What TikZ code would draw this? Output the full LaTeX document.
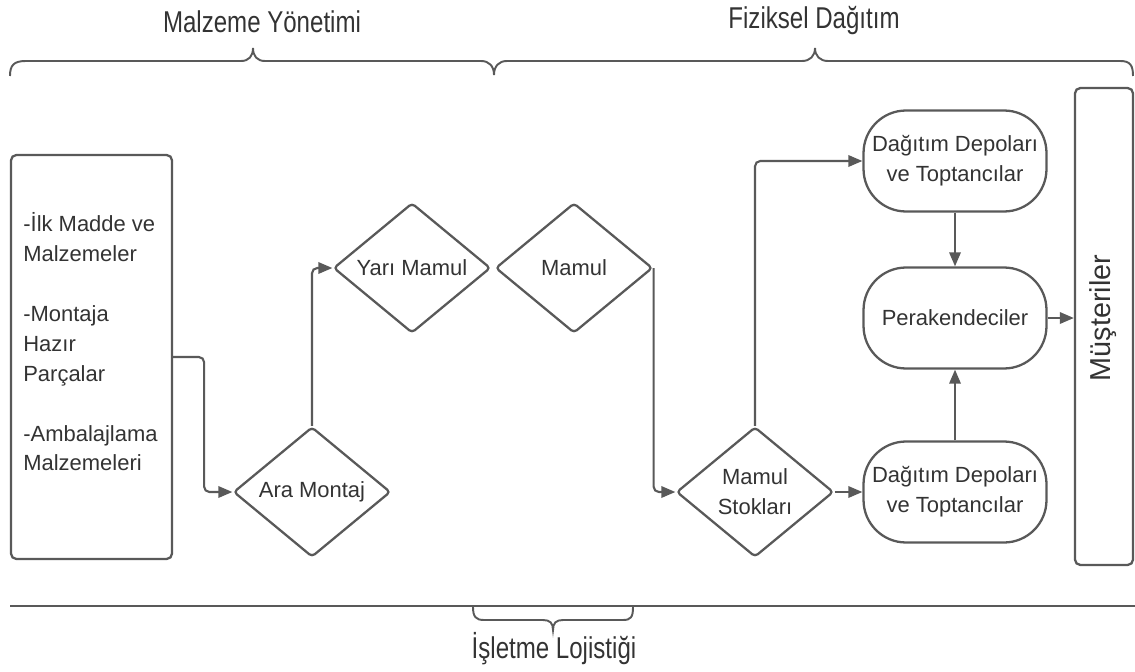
\documentclass[tikz,border=0pt]{standalone}
\usepackage{fontspec}
\setmainfont{Liberation Sans}
\usepackage{graphicx}
\usepackage{xcolor}
\usetikzlibrary{shapes.geometric}
\usetikzlibrary{arrows.meta}
\definecolor{cizgi}{HTML}{595959}
\definecolor{yazi}{HTML}{333333}

\begin{document}
\begin{tikzpicture}[x=0.02cm,y=-0.02cm,
  every node/.style={text=yazi,font=\fontsize{12.5}{17}\selectfont},
  karar/.style={draw=cizgi,line width=1.3pt,diamond,inner sep=0pt,rounded corners=2pt,
    minimum width=3.14cm,minimum height=2.6cm,align=center},
  depo/.style={draw=cizgi,line width=1.3pt,rectangle,rounded corners=0.85cm,inner sep=0pt,
    minimum width=3.66cm,minimum height=2.02cm,align=center},
  ok/.style={draw=cizgi,line width=1.2pt,rounded corners=3pt,-{Triangle[length=8pt,width=6.5pt]}},
  parantez/.style={draw=cizgi,line width=1.1pt},
  baslik/.style={font=\fontsize{13.7}{16}\selectfont}]
\useasboundingbox (0,0) rectangle (1135,672);

% ust basliklar
\node[baslik] (malzeme) at (262,22) {\scalebox{1}[1.25]{Malzeme Yönetimi}};
\node[baslik] (fiziksel) at (814,21) {\scalebox{1}[1.25]{Fiziksel Dağıtım}};
\draw[parantez] (10,76) .. controls (10,65) and (14,61) .. (26,61) -- (241,61)
  .. controls (249,61) and (253,56) .. (253,48) .. controls (253,56) and (257,61) .. (265,61)
  -- (481,61) .. controls (489,61) and (494,66) .. (494,75);
\draw[parantez] (494,75) .. controls (494,66) and (499,61) .. (507,61) -- (802,61)
  .. controls (810,61) and (815,56) .. (815,48) .. controls (815,56) and (820,61) .. (828,61)
  -- (1120,61) .. controls (1130,61) and (1133,65) .. (1133,76);

% sol kutu
\node[draw=cizgi,line width=1.3pt,rounded corners=3pt,minimum width=3.22cm,minimum height=8.08cm,inner sep=0pt]
  (kutu) at (91.5,357) {};
\node[anchor=west,align=left,inner sep=0pt] (liste) at (23,342)
  {-İlk Madde ve\\Malzemeler\\[17pt]-Montaja\\Hazır\\Parçalar\\[17pt]-Ambalajlama\\Malzemeleri};

% karar kutulari
\node[karar] (ara) at (312,492) {Ara Montaj};
\node[karar] (yari) at (412,268) {Yarı Mamul};
\node[karar] (mamul) at (574,268) {Mamul};
\node[karar] (stok) at (755,492) {Mamul\\Stokları};

% dagitim
\node[depo] (dag1) at (955,161) {Dağıtım Depoları\\ve Toptancılar};
\node[depo] (per) at (955,318) {Perakendeciler};
\node[depo] (dag2) at (955,492) {Dağıtım Depoları\\ve Toptancılar};
\node[draw=cizgi,line width=1.3pt,rounded corners=3pt,minimum width=1.16cm,minimum height=9.54cm,inner sep=0pt]
  (mus) at (1104,326.5) {};
\node[rotate=90,font=\fontsize{16.4}{20}\selectfont] (musyazi) at (1103,318) {Müşteriler};

% oklar
\draw[ok] (kutu.east) -- ++(31,0) |- (ara.west);
\draw[ok] (ara.north) |- (yari.west);
\draw[ok] (mamul.east) |- (stok.west);
\draw[ok] (stok.north) |- (dag1.west);
\draw[ok] (stok.east) -- (dag2.west);
\draw[ok] (dag1.south) -- (per.north);
\draw[ok] (dag2.north) -- (per.south);
\draw[ok] (per.east) -- (per.east -| mus.west);

% alt kisim
\draw[draw=cizgi,line width=1.6pt] (10,606) -- (1135,606);
\draw[parantez] (473,607) .. controls (473,617) and (476,620) .. (484,620) -- (543,620)
  .. controls (550,620) and (553,623) .. (553,630) .. controls (553,623) and (556,620) .. (563,620)
  -- (623,620) .. controls (631,620) and (633,617) .. (633,607);
\node[baslik] (isletme) at (554,649) {\scalebox{1}[1.25]{İşletme Lojistiği}};
\end{tikzpicture}
\end{document}
